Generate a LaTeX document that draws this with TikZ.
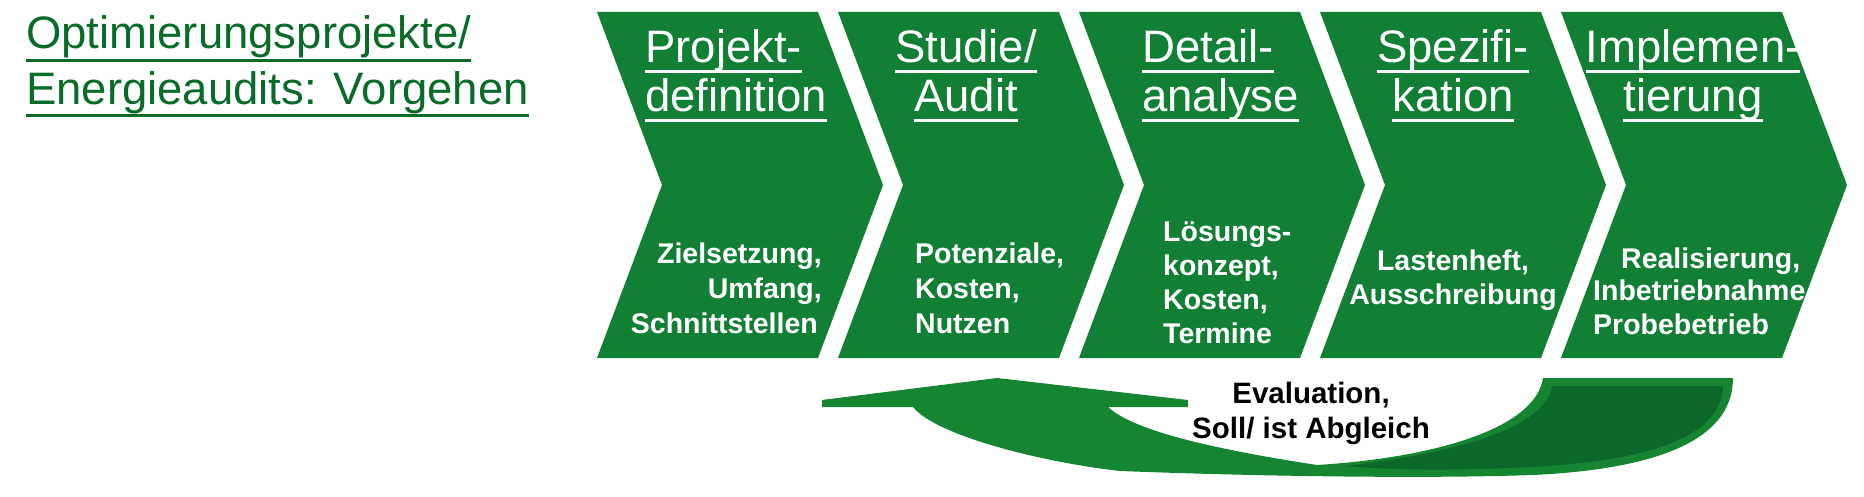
\documentclass[tikz,border=0pt]{standalone}
\usepackage{fontspec}
\setmainfont{Liberation Sans}
\definecolor{chev}{RGB}{17,128,52}
\definecolor{ttlgreen}{RGB}{8,108,40}
\definecolor{arrg}{RGB}{22,133,50}
\definecolor{arrdark}{RGB}{12,104,42}
\newcommand\ulx[2]{\setbox0=\hbox{#2}\dimen0=\wd0\relax\rlap{\box0}\rule[#1]{\dimen0}{3pt}}
\tikzset{
  headtxt/.style={text=white, inner sep=0pt, font=\fontsize{45.5pt}{49pt}\selectfont},
  bodytxt/.style={text=white, inner sep=0pt, font=\bfseries\fontsize{28.5pt}{35pt}\selectfont},
  chevshape/.style={fill=chev},
}
\begin{document}
\begin{tikzpicture}[x=1pt,y=-1pt]
\useasboundingbox (0,0) rectangle (1864,497);
% chevrons
\foreach \i in {0,...,4}{
  \pgfmathsetmacro\xa{597+241*\i}
  \fill[chevshape] (\xa,12) -- ++(221,0) -- ++(65,173) -- ++(-65,173) -- ++(-221,0) -- ++(65,-173) -- cycle;
}
% main title (anchor = baseline of last line)
\node[font=\fontsize{45.5pt}{56pt}\selectfont, text=ttlgreen, align=left, anchor=base west, inner sep=0pt] (title) at (26,105)
  {\ulx{-13.5pt}{Optimierungsprojekte/}\\\ulx{-12pt}{Energieaudits: Vorgehen}};
% chevron headings
\node[headtxt, align=left, anchor=base west] (h1) at (645,112) {\ulx{-10.5pt}{Projekt-}\\\ulx{-10.5pt}{definition}};
\node[headtxt, align=center, anchor=base] (h2) at (966,112) {\ulx{-10.5pt}{Studie/}\\\ulx{-10.5pt}{Audit}};
\node[headtxt, align=left, anchor=base west] (h3) at (1142,112) {\ulx{-10.5pt}{Detail-}\\\ulx{-10.5pt}{analyse}};
\node[headtxt, align=center, anchor=base] (h4) at (1453,112) {\ulx{-10.5pt}{Spezifi-}\\\ulx{-10.5pt}{kation}};
\node[headtxt, align=center, anchor=base] (h5) at (1693,112) {\ulx{-10.5pt}{Implemen-}\\\ulx{-10.5pt}{tierung}};
% chevron bodies
\node[bodytxt, align=right, anchor=base east] (b1) at (822,333) {Zielsetzung,\\Umfang,\hspace*{9pt}\\Schnittstellen\hspace*{4pt}};
\node[bodytxt, align=left, anchor=base west] (b2) at (915,333) {Potenziale,\\Kosten,\\Nutzen};
\node[bodytxt, align=left, anchor=base west, font=\bfseries\fontsize{28.5pt}{34pt}\selectfont] (b3) at (1163,343) {Lösungs-\\konzept,\\Kosten,\\Termine};
\node[bodytxt, align=center, anchor=base] (b4) at (1453,305) {Lastenheft,\\Ausschreibung};
\node[bodytxt, align=left, anchor=base west, font=\bfseries\fontsize{28.5pt}{33pt}\selectfont] (b5) at (1593,334) {\hspace*{28pt}Realisierung,\\Inbetriebnahme\\Probebetrieb};
% feedback arrow
\fill[arrg] (997,378) -- (1188,400) -- (1188,407) -- (1108,407)
  .. controls (1135,432) and (1220,450) .. (1317,465)
  .. controls (1430,458) and (1535,430) .. (1543,378)
  -- (1733,378)
  .. controls (1733,430) and (1680,468) .. (1533,475)
  .. controls (1420,479) and (1250,476) .. (1120,471)
  .. controls (1040,462) and (935,435) .. (913,407)
  -- (822,407) -- (822,400) -- cycle;
\fill[arrdark] (1552,386) -- (1723,386)
  .. controls (1722,428) and (1672,460) .. (1530,467)
  .. controls (1450,471) and (1390,470) .. (1345,466)
  .. controls (1440,455) and (1545,432) .. (1552,386) -- cycle;
\node[font=\bfseries\fontsize{29.5pt}{35pt}\selectfont, align=center, anchor=base, inner sep=0pt] (eval) at (1311,438) {Evaluation,\\Soll/ ist Abgleich};
\end{tikzpicture}
\end{document}
